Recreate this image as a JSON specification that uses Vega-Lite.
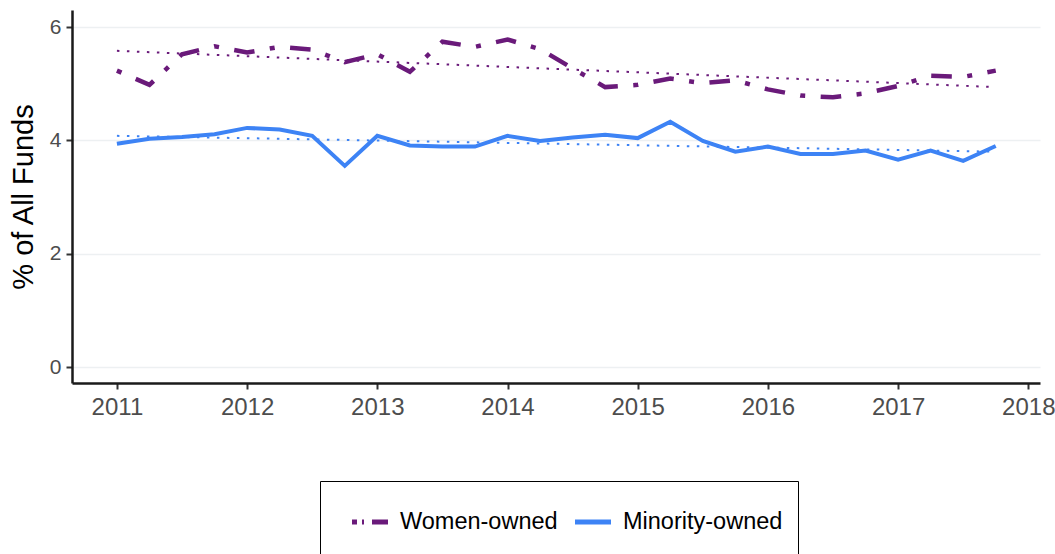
{
  "$schema": "https://vega.github.io/schema/vega-lite/v6.json",
  "width": 968,
  "height": 373,
  "autosize": {"type": "none"},
  "padding": {"left": 72, "top": 10, "right": 15, "bottom": 171},
  "background": "white",
  "config": {
    "view": {"stroke": null},
    "font": "Liberation Sans",
    "legend": {
      "title": null,
      "orient": "none",
      "direction": "horizontal",
      "legendX": 248,
      "legendY": 471,
      "padding": 15,
      "strokeColor": "#000000",
      "symbolType": "M0,-0.93M0,0.93M-0.766,0H0.766",
      "symbolSize": 2209,
      "symbolStrokeWidth": 5,
      "symbolOffset": 9,
      "labelFontSize": 23.5,
      "labelColor": "#000000",
      "labelFont": "Liberation Sans",
      "labelOffset": 4,
      "columnPadding": -3
    }
  },
  "data": {
    "values": [
      {"t": 2011.00, "series": "Women-owned", "value": 5.23, "kind": "actual"},
      {"t": 2011.25, "series": "Women-owned", "value": 4.98, "kind": "actual"},
      {"t": 2011.50, "series": "Women-owned", "value": 5.52, "kind": "actual"},
      {"t": 2011.75, "series": "Women-owned", "value": 5.66, "kind": "actual"},
      {"t": 2012.00, "series": "Women-owned", "value": 5.55, "kind": "actual"},
      {"t": 2012.25, "series": "Women-owned", "value": 5.65, "kind": "actual"},
      {"t": 2012.50, "series": "Women-owned", "value": 5.60, "kind": "actual"},
      {"t": 2012.75, "series": "Women-owned", "value": 5.38, "kind": "actual"},
      {"t": 2013.00, "series": "Women-owned", "value": 5.52, "kind": "actual"},
      {"t": 2013.25, "series": "Women-owned", "value": 5.21, "kind": "actual"},
      {"t": 2013.50, "series": "Women-owned", "value": 5.74, "kind": "actual"},
      {"t": 2013.75, "series": "Women-owned", "value": 5.65, "kind": "actual"},
      {"t": 2014.00, "series": "Women-owned", "value": 5.78, "kind": "actual"},
      {"t": 2014.25, "series": "Women-owned", "value": 5.61, "kind": "actual"},
      {"t": 2014.50, "series": "Women-owned", "value": 5.27, "kind": "actual"},
      {"t": 2014.75, "series": "Women-owned", "value": 4.94, "kind": "actual"},
      {"t": 2015.00, "series": "Women-owned", "value": 4.98, "kind": "actual"},
      {"t": 2015.25, "series": "Women-owned", "value": 5.09, "kind": "actual"},
      {"t": 2015.50, "series": "Women-owned", "value": 5.01, "kind": "actual"},
      {"t": 2015.75, "series": "Women-owned", "value": 5.06, "kind": "actual"},
      {"t": 2016.00, "series": "Women-owned", "value": 4.90, "kind": "actual"},
      {"t": 2016.25, "series": "Women-owned", "value": 4.79, "kind": "actual"},
      {"t": 2016.50, "series": "Women-owned", "value": 4.76, "kind": "actual"},
      {"t": 2016.75, "series": "Women-owned", "value": 4.83, "kind": "actual"},
      {"t": 2017.00, "series": "Women-owned", "value": 4.96, "kind": "actual"},
      {"t": 2017.25, "series": "Women-owned", "value": 5.14, "kind": "actual"},
      {"t": 2017.50, "series": "Women-owned", "value": 5.12, "kind": "actual"},
      {"t": 2017.75, "series": "Women-owned", "value": 5.23, "kind": "actual"},
      {"t": 2011.00, "series": "Minority-owned", "value": 3.94, "kind": "actual"},
      {"t": 2011.25, "series": "Minority-owned", "value": 4.03, "kind": "actual"},
      {"t": 2011.50, "series": "Minority-owned", "value": 4.06, "kind": "actual"},
      {"t": 2011.75, "series": "Minority-owned", "value": 4.11, "kind": "actual"},
      {"t": 2012.00, "series": "Minority-owned", "value": 4.22, "kind": "actual"},
      {"t": 2012.25, "series": "Minority-owned", "value": 4.19, "kind": "actual"},
      {"t": 2012.50, "series": "Minority-owned", "value": 4.08, "kind": "actual"},
      {"t": 2012.75, "series": "Minority-owned", "value": 3.55, "kind": "actual"},
      {"t": 2013.00, "series": "Minority-owned", "value": 4.08, "kind": "actual"},
      {"t": 2013.25, "series": "Minority-owned", "value": 3.91, "kind": "actual"},
      {"t": 2013.50, "series": "Minority-owned", "value": 3.89, "kind": "actual"},
      {"t": 2013.75, "series": "Minority-owned", "value": 3.89, "kind": "actual"},
      {"t": 2014.00, "series": "Minority-owned", "value": 4.08, "kind": "actual"},
      {"t": 2014.25, "series": "Minority-owned", "value": 3.99, "kind": "actual"},
      {"t": 2014.50, "series": "Minority-owned", "value": 4.05, "kind": "actual"},
      {"t": 2014.75, "series": "Minority-owned", "value": 4.10, "kind": "actual"},
      {"t": 2015.00, "series": "Minority-owned", "value": 4.04, "kind": "actual"},
      {"t": 2015.25, "series": "Minority-owned", "value": 4.33, "kind": "actual"},
      {"t": 2015.50, "series": "Minority-owned", "value": 3.99, "kind": "actual"},
      {"t": 2015.75, "series": "Minority-owned", "value": 3.80, "kind": "actual"},
      {"t": 2016.00, "series": "Minority-owned", "value": 3.89, "kind": "actual"},
      {"t": 2016.25, "series": "Minority-owned", "value": 3.76, "kind": "actual"},
      {"t": 2016.50, "series": "Minority-owned", "value": 3.76, "kind": "actual"},
      {"t": 2016.75, "series": "Minority-owned", "value": 3.82, "kind": "actual"},
      {"t": 2017.00, "series": "Minority-owned", "value": 3.66, "kind": "actual"},
      {"t": 2017.25, "series": "Minority-owned", "value": 3.82, "kind": "actual"},
      {"t": 2017.50, "series": "Minority-owned", "value": 3.64, "kind": "actual"},
      {"t": 2017.75, "series": "Minority-owned", "value": 3.90, "kind": "actual"},
      {"t": 2011.00, "series": "Women-owned", "value": 5.58, "kind": "trend"},
      {"t": 2017.75, "series": "Women-owned", "value": 4.94, "kind": "trend"},
      {"t": 2011.00, "series": "Minority-owned", "value": 4.08, "kind": "trend"},
      {"t": 2017.75, "series": "Minority-owned", "value": 3.80, "kind": "trend"}
    ]
  },
  "encoding": {
    "x": {
      "field": "t",
      "type": "quantitative",
      "scale": {"domain": [2010.655, 2018.09], "nice": false, "zero": false},
      "axis": {
        "title": null,
        "values": [2011, 2012, 2013, 2014, 2015, 2016, 2017, 2018],
        "format": "d",
        "grid": false,
        "domainColor": "#1a1a1a",
        "domainWidth": 2.5,
        "tickColor": "#333333",
        "tickWidth": 2,
        "tickSize": 6,
        "labelFontSize": 24,
        "labelColor": "#4d4d4d",
        "labelPadding": 6,
        "labelFont": "Liberation Sans"
      }
    },
    "y": {
      "field": "value",
      "type": "quantitative",
      "scale": {"domain": [-0.28, 6.3], "nice": false, "zero": false},
      "axis": {
        "title": "% of All Funds",
        "titleFontSize": 29,
        "titleFontWeight": "normal",
        "titleColor": "#000000",
        "titleFont": "Liberation Sans",
        "titlePadding": 11,
        "values": [0, 2, 4, 6],
        "grid": true,
        "gridColor": "#edf0f2",
        "gridWidth": 1.5,
        "domainColor": "#1a1a1a",
        "domainWidth": 2.5,
        "tickColor": "#333333",
        "tickWidth": 2,
        "tickSize": 6,
        "labelFontSize": 21,
        "labelColor": "#4d4d4d",
        "labelPadding": 5,
        "labelFont": "Liberation Sans"
      }
    }
  },
  "layer": [
    {
      "transform": [{"filter": "datum.kind === 'actual' && datum.series === 'Women-owned'"}],
      "mark": {"type": "line", "strokeWidth": 4.5, "strokeDash": [5, 15.5, 20.6, 15.5], "clip": true},
      "encoding": {
        "color": {
          "field": "series",
          "type": "nominal",
          "scale": {"domain": ["Women-owned", "Minority-owned"], "range": ["#6a1a7a", "#3d83f5"]},
          "legend": {
            "encode": {
              "symbols": {"update": {"strokeDash": {"signal": "datum.value === 'Women-owned' ? [5, 5, 2, 8, 16, 100] : [1, 0]"}}}
            }
          }
        }
      }
    },
    {
      "transform": [{"filter": "datum.kind === 'actual' && datum.series === 'Minority-owned'"}],
      "mark": {"type": "line", "strokeWidth": 4, "clip": true},
      "encoding": {
        "color": {"field": "series", "type": "nominal"}
      }
    },
    {
      "transform": [{"filter": "datum.kind === 'trend'"}],
      "mark": {"type": "line", "strokeWidth": 2, "strokeDash": [2.5, 7.5], "clip": true},
      "encoding": {
        "color": {"field": "series", "type": "nominal"},
        "detail": {"field": "series"}
      }
    }
  ]
}
